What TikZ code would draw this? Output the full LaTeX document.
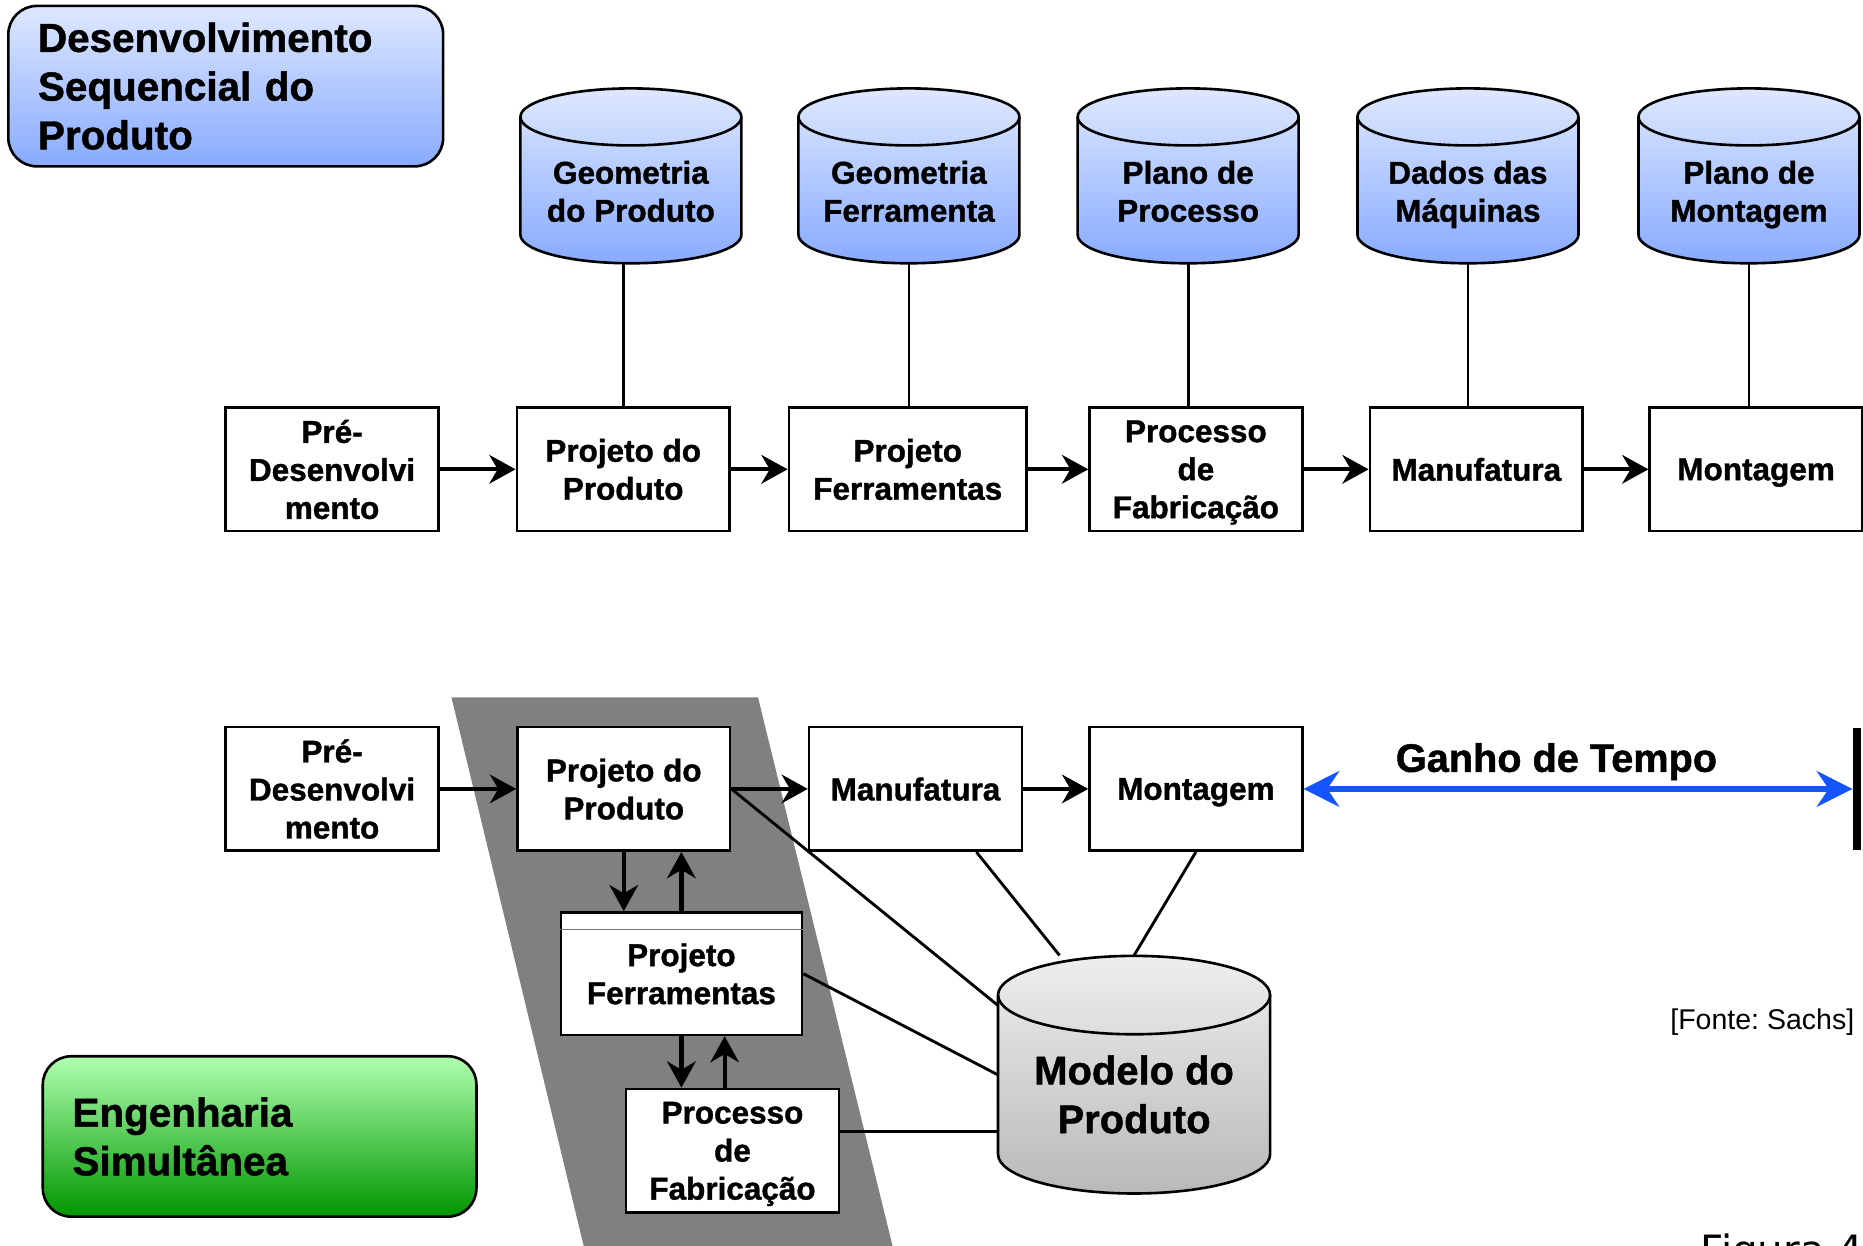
\documentclass[tikz,border=0pt]{standalone}
\usepackage{fontspec}
\setmainfont{Liberation Sans}[BoldFeatures={FakeBold=1.2}]
\newfontfamily\figfont{DejaVu Sans}
\usetikzlibrary{arrows.meta}

\definecolor{blueTop}{RGB}{222,232,255}
\definecolor{blueBot}{RGB}{136,170,255}
\definecolor{greenTop}{RGB}{175,255,175}
\definecolor{greenMid}{RGB}{70,255,70}
\definecolor{greenBot}{RGB}{0,150,0}
\definecolor{grayTop}{RGB}{238,238,238}
\definecolor{grayBot}{RGB}{185,185,185}
\definecolor{slab}{RGB}{128,128,128}
\definecolor{timeBlue}{RGB}{20,85,255}

% shaded data base drum: centre, half width, half distance of the caps, cap radius, shading
\newcommand{\dbcylinder}[5]{%
    \path[#5, draw, line width=1.1pt]
        ([shift={(-#2,#3)}]#1) -- ([shift={(-#2,-#3)}]#1)
        arc[start angle=180, end angle=360, x radius=#2, y radius=#4]
        -- ([shift={(#2,#3)}]#1)
        arc[start angle=0, end angle=180, x radius=#2, y radius=#4] -- cycle;
    \draw[line width=1.1pt] ([shift={(-#2,#3)}]#1)
        arc[start angle=180, end angle=360, x radius=#2, y radius=#4];
}

\begin{document}
\begin{tikzpicture}[
        x=0.5pt, y=-0.5pt,
        box_style/.style={draw, line width=1.1pt, fill=white, minimum width=89.5pt, minimum height=52pt, inner sep=0pt, text depth=0pt, align=center, font=\bfseries\fontsize{13.25}{16}\selectfont},
        db_style/.style={minimum width=93pt, minimum height=73.6pt, inner sep=0pt},
        db_fill/.style={top color=blueTop, bottom color=blueBot},
        db_text/.style={align=center, text depth=0pt, font=\bfseries\fontsize{13.25}{16}\selectfont, yshift=#1},
        db_text/.default=-6.5pt,
        flow_style/.style={line width=1.8pt, -{Stealth[length=11pt, width=12pt, inset=3.5pt]}},
        link_style/.style={line width=1.2pt},
        title_style/.style={draw, line width=1.1pt, rounded corners=12pt, minimum height=67.5pt, inner xsep=12.5pt, align=left, font=\bfseries\fontsize{17}{20.5}\selectfont},
        gain_style/.style={draw=timeBlue, line width=2.7pt, {Stealth[length=15pt, width=15pt, inset=5pt]}-{Stealth[length=15pt, width=15pt, inset=5pt]}}
    ]
        \useasboundingbox (0,0) rectangle (1568,1048);

        % Gray band behind the simultaneous tasks
        \fill[slab] (380,587) -- (638,587) -- (754,1060) -- (494,1060) -- cycle;

        % Titles
        \node[title_style, top color=blueTop, bottom color=blueBot, text width=158pt] (seq) at (190,72.5) {Desenvolvimento\\Sequencial do\\Produto};
        \node[title_style, top color=greenTop, middle color=greenMid, bottom color=greenBot, text width=157.5pt] (sim) at (218.5,956.5) {Engenharia\\Simult\^anea};

        % Sequential: data bases
        \dbcylinder{531,148}{46.5pt}{24.8pt}{12pt}{db_fill}
        \dbcylinder{765,148}{46.5pt}{24.8pt}{12pt}{db_fill}
        \dbcylinder{1000,148}{46.5pt}{24.8pt}{12pt}{db_fill}
        \dbcylinder{1235.5,148}{46.5pt}{24.8pt}{12pt}{db_fill}
        \dbcylinder{1472,148}{46.5pt}{24.8pt}{12pt}{db_fill}
        \node[db_style, label={[db_text]center:Geometria\\do Produto}] (geo1) at (531,148) {};
        \node[db_style, label={[db_text]center:Geometria\\Ferramenta}] (geo2) at (765,148) {};
        \node[db_style, label={[db_text]center:Plano de\\Processo}] (plan1) at (1000,148) {};
        \node[db_style, label={[db_text]center:Dados das\\Máquinas}] (dados) at (1235.5,148) {};
        \node[db_style, label={[db_text]center:Plano de\\Montagem}] (plan2) at (1472,148) {};

        % Sequential: tasks
        \node[box_style] (pre1) at (279.5,395) {Pré-\\Desenvolvi\\mento};
        \node[box_style] (prod1) at (524.5,395) {Projeto do\\Produto};
        \node[box_style, minimum width=100pt] (ferr1) at (764,395) {Projeto\\Ferramentas};
        \node[box_style] (proc1) at (1006.5,395) {Processo\\de\\Fabricação};
        \node[box_style] (manu1) at (1242.5,395) {Manufatura};
        \node[box_style] (mont1) at (1478,395) {Montagem};

        \draw[flow_style] (pre1) -- (prod1);
        \draw[flow_style] (prod1) -- (ferr1);
        \draw[flow_style] (ferr1) -- (proc1);
        \draw[flow_style] (proc1) -- (manu1);
        \draw[flow_style] (manu1) -- (mont1);

        \draw[link_style] (prod1.north) -- (prod1.north |- geo1.south);
        \draw[link_style] (geo2.south) -- (geo2.south |- ferr1.north);
        \draw[link_style] (plan1.south) -- (plan1.south |- proc1.north);
        \draw[link_style] (dados.south) -- (dados.south |- manu1.north);
        \draw[link_style] (plan2.south) -- (plan2.south |- mont1.north);

        % Simultaneous: tasks
        \node[box_style] (pre2) at (279.5,664) {Pré-\\Desenvolvi\\mento};
        \node[box_style] (prod2) at (525,664) {Projeto do\\Produto};
        \node[box_style] (manu2) at (770.5,664) {Manufatura};
        \node[box_style] (mont2) at (1006.5,664) {Montagem};
        \node[box_style, minimum width=101.5pt, minimum height=51.5pt] (ferr2) at (573.5,819.5) {Projeto\\Ferramentas};
        \node[box_style] (proc2) at (616.5,968.5) {Processo\\de\\Fabricação};
        \draw[line width=0.4pt, black!55] ([yshift=-7.5pt]ferr2.north west) -- ([yshift=-7.5pt]ferr2.north east);

        \draw[flow_style] (pre2) -- (prod2);
        \draw[flow_style] (prod2) -- (manu2);
        \draw[flow_style] (manu2) -- (mont2);
        \draw[flow_style] (prod2.south) -- (prod2.south |- ferr2.north);
        \draw[flow_style] (ferr2.north) -- (ferr2.north |- prod2.south);
        \draw[flow_style] (ferr2.south) -- (ferr2.south |- proc2.north);
        \draw[flow_style] ([xshift=-3.3pt]proc2.north) -- ([xshift=-3.3pt]proc2.north |- ferr2.south);

        % Shared product model
        \dbcylinder{954.5,904.5}{57.25pt}{33.5pt}{16.5pt}{top color=grayTop, bottom color=grayBot}
        \node[db_style, minimum width=114.5pt, minimum height=100pt,
            label={[db_text=-8.25pt, font=\bfseries\fontsize{16.8}{20.5}\selectfont]center:Modelo do\\Produto}] (modelo) at (954.5,904.5) {};

        \draw[link_style] (prod2.east) -- (modelo.153);
        \draw[link_style] (manu2.-46) -- (modelo.122);
        \draw[link_style] (mont2.south) -- (modelo.north);
        \draw[link_style] (ferr2.east) -- (modelo.west);
        \draw[link_style] (proc2.10) -- (proc2.10 -| modelo.west);

        % Time gained
        \node[fill=black, minimum width=3.5pt, minimum height=51pt, inner sep=0pt] (tbar) at (1563,664) {};
        \draw[gain_style] (mont2.east) -- (tbar.west);
        \node[font=\bfseries\fontsize{16.7}{20}\selectfont] (gain) at (1310,641) {Ganho de Tempo};

        % Source and caption
        \node[anchor=east, inner sep=0pt, font=\fontsize{12}{14}\selectfont] (fonte) at (1561,860) {[Fonte:\ Sachs]};
        \node[anchor=base west, inner sep=0pt, font=\figfont\fontsize{17}{20}\selectfont] (fig) at (1431,1064) {Figura 4};
    \end{tikzpicture}
\end{document}
